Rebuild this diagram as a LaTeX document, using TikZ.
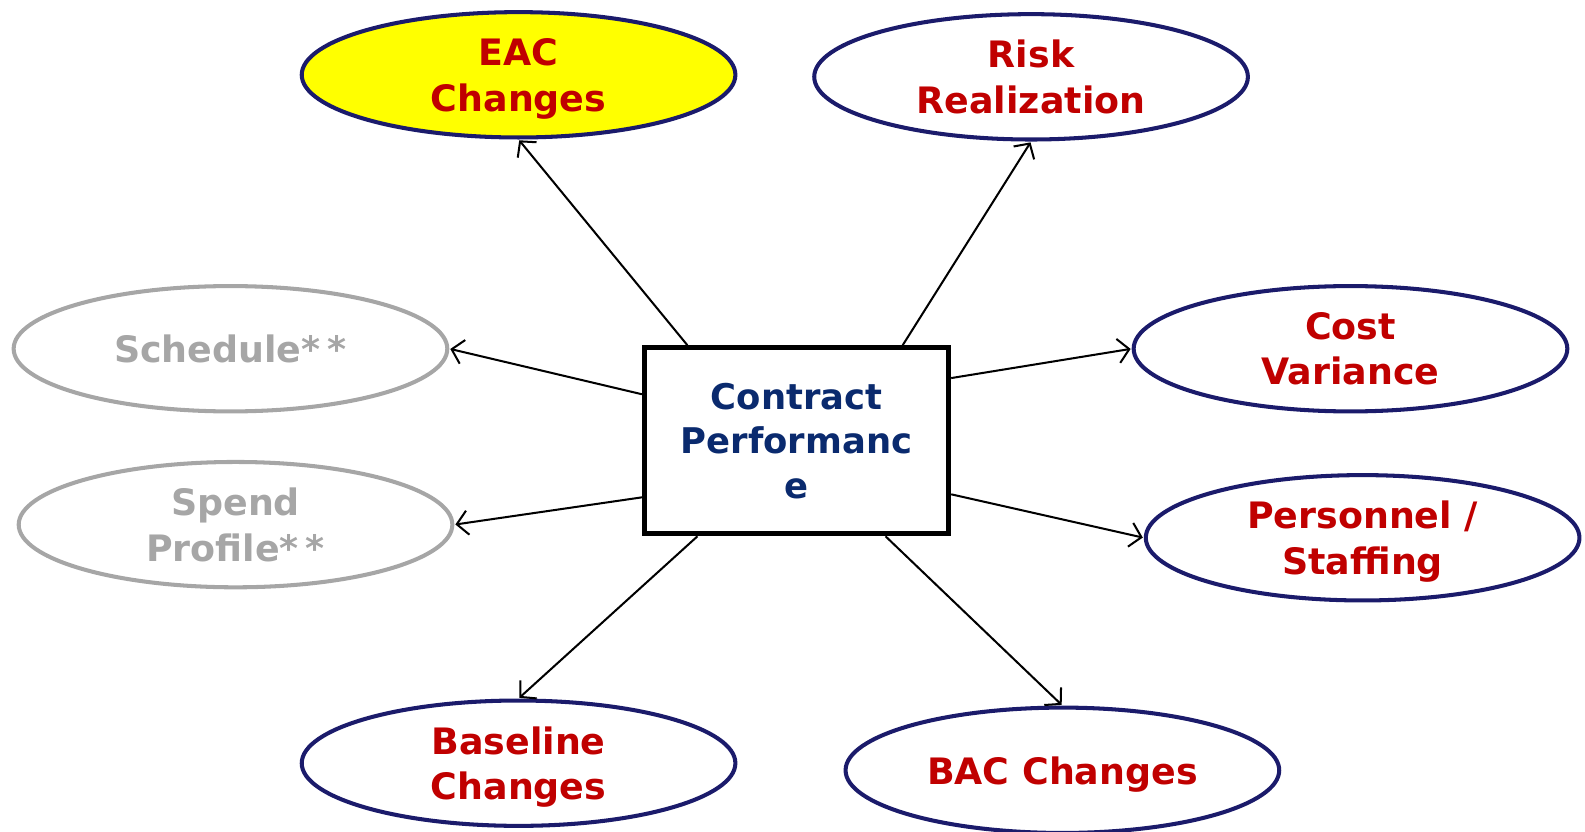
\documentclass[tikz,border=0pt]{standalone}
\usepackage{fontspec}
\setmainfont{DejaVu Sans}
\usetikzlibrary{shapes.geometric,arrows.meta,calc}
\definecolor{navy}{HTML}{1B1B6B}
\definecolor{tred}{HTML}{C00000}
\definecolor{tblue}{HTML}{0A2A6E}
\definecolor{tgray}{HTML}{A6A6A6}
\definecolor{tyellow}{HTML}{FFFF00}
\begin{document}
\begin{tikzpicture}[x=1pt,y=-1pt,
  oval/.style={ellipse,draw=navy,line width=4pt,minimum width=429pt,minimum height=124pt,inner sep=0pt,align=center,text=tred,text depth=-3pt,font=\fontsize{36}{45}\selectfont\bfseries},
  grayoval/.style={oval,draw=tgray,text=tgray},
  conn/.style={-{Straight Barb[length=11pt,width=24pt,line width=2pt]},line width=2pt,shorten >=1pt},
  centerbox/.style={rectangle,draw=black,line width=5pt,minimum width=301pt,minimum height=184pt,inner sep=0pt,align=center,text=tblue,text depth=-6pt,font=\fontsize{35}{44}\selectfont\bfseries}
]
\useasboundingbox (0,0) rectangle (1568,823);
\node[oval,fill=tyellow] (eac) at (513,74) {EAC\\Changes};
\node[oval] (risk) at (1020,76) {Risk\\Realization};
\node[grayoval] (sched) at (228,345) {Schedule*\hspace{7pt}*};
\node[grayoval] (spend) at (233,519) {Spend\\Profile*\hspace{7pt}*};
\node[oval] (cost) at (1336,345) {Cost\\Variance};
\node[oval] (pers) at (1348,532) {Personnel /\\Staffing};
\node[oval] (base) at (513,755) {Baseline\\Changes};
\node[oval] (bac) at (1051,762) {BAC Changes};
\node[centerbox] (box) at (788,436) {Contract\\Performanc\\e};
\draw[conn] ($(box.north west)+(45,0)$) -- (eac.south);
\draw[conn] ($(box.north west)+(258,0)$) -- (risk.south);
\draw[conn] ($(box.west)+(0,-46)$) -- (sched.east);
\draw[conn] ($(box.west)+(0,56)$) -- (spend.east);
\draw[conn] ($(box.east)+(0,-62)$) -- (cost.west);
\draw[conn] ($(box.east)+(0,53)$) -- (pers.west);
\draw[conn] ($(box.south west)+(55,0)$) -- (base.north);
\draw[conn] ($(box.south west)+(241,0)$) -- (bac.north);
\end{tikzpicture}
\end{document}
